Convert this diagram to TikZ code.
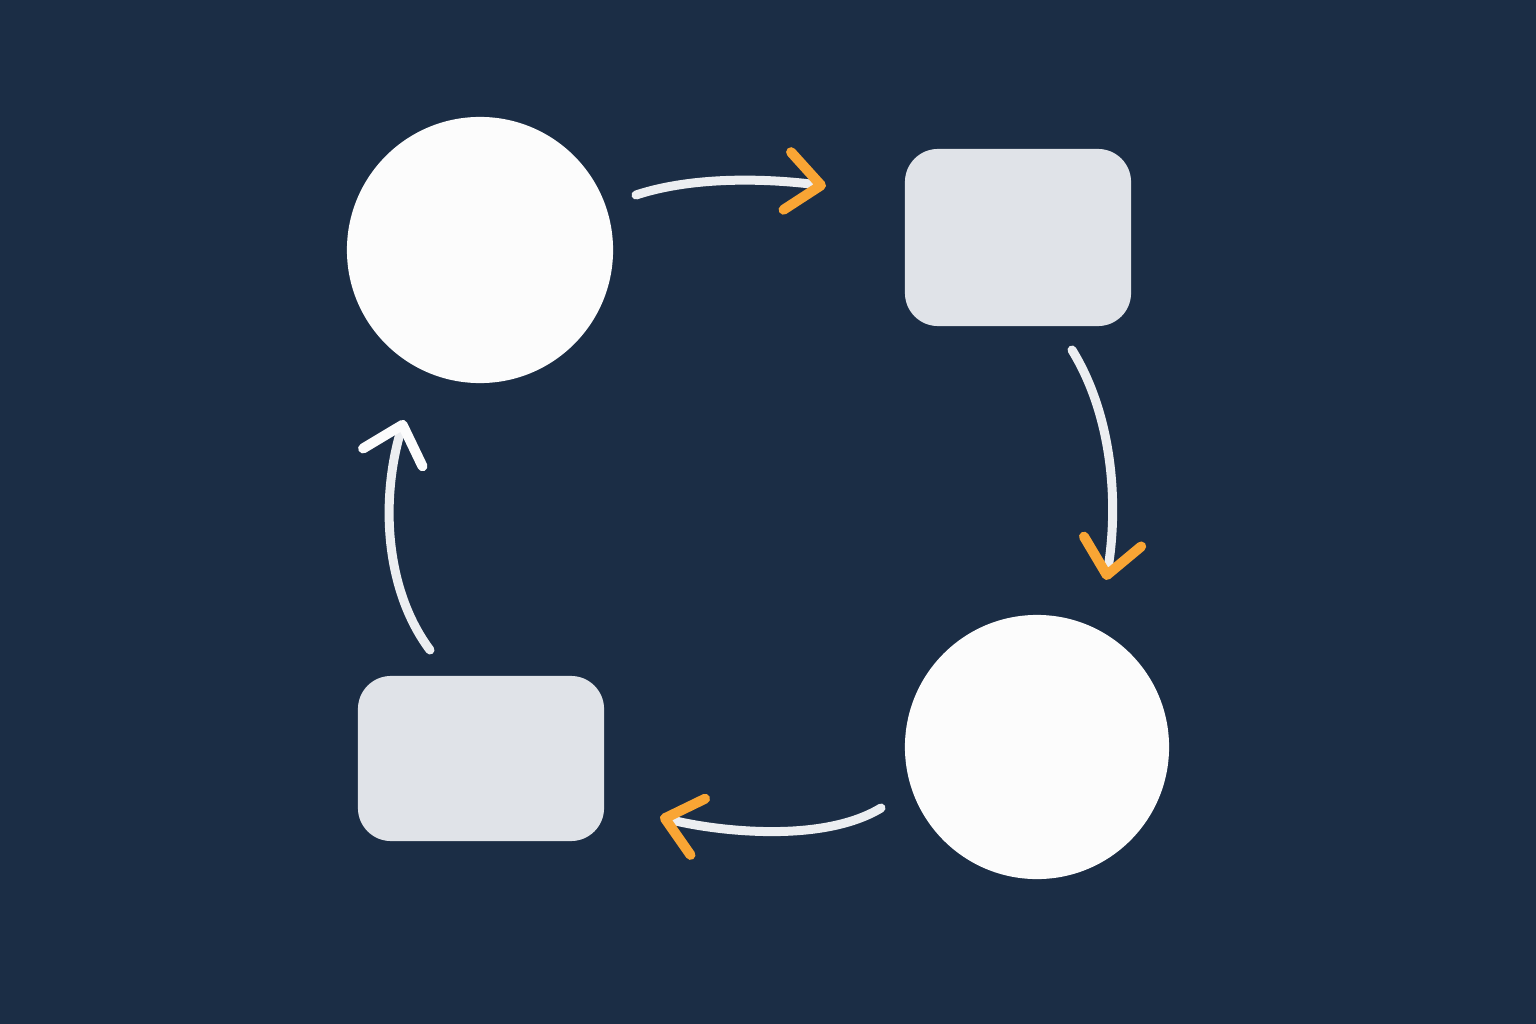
\documentclass[tikz,border=0pt]{standalone}
\usepackage{tikz}
\definecolor{mynavy}{RGB}{27,45,69}
\definecolor{mywhite}{RGB}{252,252,252}
\definecolor{mygray}{RGB}{224,227,232}
\definecolor{myshaft}{RGB}{236,238,241}
\definecolor{myorange}{RGB}{249,165,52}
\usetikzlibrary{arrows.meta,shapes}

\begin{document}
\begin{tikzpicture}[x=0.01cm,y=-0.01cm,
        every node/.style={inner sep=0pt,draw=none},
        bignode/.style={circle,fill=mywhite},
        boxnode/.style={rectangle,rounded corners=0.33cm,fill=mygray},
        flow/.style={draw=myshaft,line width=0.09cm,line cap=round},
        hotflow/.style={flow,-{Straight Barb[round,length=0.34cm,width=0.58cm,line width=0.1cm,color=myorange]}},
        coolflow/.style={flow,-{Straight Barb[round,length=0.34cm,width=0.62cm,line width=0.1cm,color=mywhite]}}
        ]

        % the background
        \fill[mynavy] (0,0) rectangle (1536,1024);
        \useasboundingbox (0,0) rectangle (1536,1024);

        % the nodes
        \node[bignode,minimum size=2.66cm] (c1) at (480,250) {};
        \node[boxnode,minimum width=2.26cm,minimum height=1.77cm] (r1) at (1018,237.5) {};
        \node[bignode,minimum size=2.64cm] (c2) at (1037,747) {};
        \node[boxnode,minimum width=2.46cm,minimum height=1.65cm] (r2) at (481,758.5) {};

        % the ends of the arrows
        \coordinate (a1) at (636,195);
        \coordinate (b1) at (826,186);
        \coordinate (a2) at (1072,350);
        \coordinate (b2) at (1106,580);
        \coordinate (a3) at (881,808);
        \coordinate (b3) at (660,817);
        \coordinate (a4) at (430,650);
        \coordinate (b4) at (404,420);

        % the arrows
        \draw[hotflow] (a1) .. controls (700,174) and (780,180) .. (b1);
        \draw[hotflow] (a2) .. controls (1115,420) and (1118,510) .. (b2);
        \draw[hotflow] (a3) .. controls (820,845) and (710,830) .. (b3);
        \draw[coolflow] (a4) .. controls (385,590) and (380,500) .. (b4);
\end{tikzpicture}
\end{document}
